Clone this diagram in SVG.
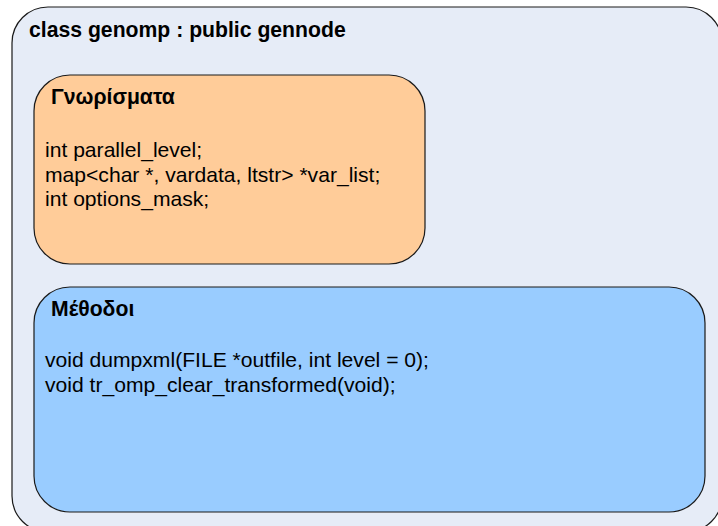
<svg xmlns="http://www.w3.org/2000/svg" width="718" height="526" viewBox="0 0 718 526">
<style>
.box{stroke:#1a1a1a;stroke-width:1.2}
.h{font-family:"Liberation Sans",Arial,sans-serif;font-weight:bold;font-size:21.2px;fill:#000}
.t{font-family:"Liberation Sans",Arial,sans-serif;font-size:21.1px;fill:#000}
</style>
<rect width="718" height="526" fill="#ffffff"/>
<g id="class-genomp">
<rect class="box" x="12" y="7" width="710" height="525" rx="36" ry="36" fill="#E6ECF7"/>
<text class="h" x="29" y="37">class genomp : public gennode</text>
</g>
<g id="attributes">
<rect class="box" x="34" y="75" width="391" height="189" rx="36" ry="36" fill="#FFCC99"/>
<text class="h" x="51" y="104">Γνωρίσματα</text>
<text class="t" x="45" y="157">int parallel_level;</text>
<text class="t" x="45" y="182">map&lt;char *, vardata, ltstr&gt; *var_list;</text>
<text class="t" x="45" y="206">int options_mask;</text>
</g>
<g id="methods">
<rect class="box" x="34" y="287" width="671" height="225" rx="36" ry="36" fill="#99CCFF"/>
<text class="h" x="51" y="316">Μέθοδοι</text>
<text class="t" x="45" y="367">void dumpxml(FILE *outfile, int level = 0);</text>
<text class="t" x="45" y="392">void tr_omp_clear_transformed(void);</text>
</g>
<g id="connectors"/>
</svg>
